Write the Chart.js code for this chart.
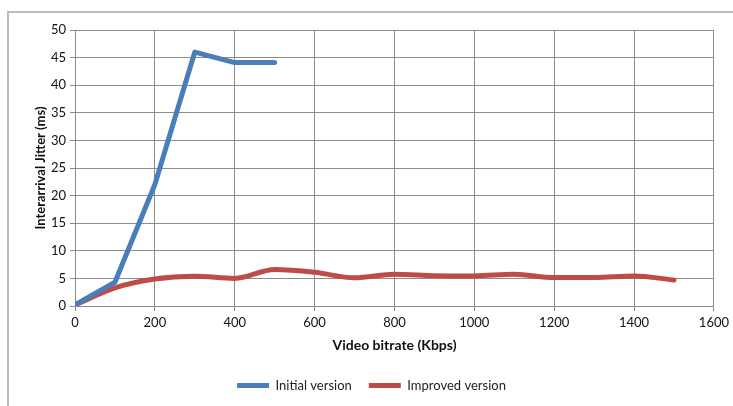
<!DOCTYPE html>
<html>
<head>
  <title>Interarrival Jitter</title>
  <script src="https://cdn.jsdelivr.net/npm/chart.js"></script>
  <style>
    html, body { margin: 0; padding: 0; background: #fff; }
    #wrap { width: 733px; height: 406px; }
  </style>
</head>
<body>
  <div id="wrap"><canvas id="jitter-chart"></canvas></div>
  <script>
    // data
    const bitrates = [0, 100, 200, 300, 400, 500, 600, 700, 800, 900, 1000, 1100, 1200, 1300, 1400, 1500];
    const initialJitter = [0.2, 4.3, 22, 46, 44.1, 44.1];
    const improvedJitter = [0.2, 3.3, 4.9, 5.4, 5.0, 6.6, 6.1, 5.1, 5.75, 5.5, 5.45, 5.75, 5.15, 5.15, 5.45, 4.7];

    const seriesNames = ['Initial version', 'Improved version'];
    const xTitle = 'Video bitrate (Kbps)';
    const yTitle = 'Interarrival Jitter (ms)';

    const font = 'Lato, "Open Sans", sans-serif';
    const gridColor = '#8c8c8c';

    function toPoints(values) {
      return values.map((v, i) => ({ x: bitrates[i], y: v }));
    }

    // grey frame round the whole chart area
    const framePlugin = {
      id: 'frame',
      beforeDraw(chart) {
        const c = chart.ctx;
        c.save();
        c.strokeStyle = '#bdbdbd';
        c.lineWidth = 2;
        c.strokeRect(8, 12, chart.width + 20, chart.height + 20);
        c.restore();
      }
    };

    const ctx = document.getElementById('jitter-chart').getContext('2d');
    new Chart(ctx, {
      type: 'line',
      data: {
        datasets: [{
          label: seriesNames[0],
          data: toPoints(initialJitter),
          borderColor: '#4a7ebb',
          backgroundColor: '#4a7ebb',
          borderWidth: 5,
          pointRadius: 0,
          borderCapStyle: 'round',
          borderJoinStyle: 'round'
        }, {
          label: seriesNames[1],
          data: toPoints(improvedJitter),
          borderColor: '#be4b48',
          backgroundColor: '#be4b48',
          borderWidth: 5,
          pointRadius: 0,
          cubicInterpolationMode: 'monotone',
          borderCapStyle: 'round',
          borderJoinStyle: 'round'
        }]
      },
      options: {
        responsive: true,
        maintainAspectRatio: false,
        animation: false,
        layout: { padding: { left: 29, top: 30, right: 19, bottom: 4 } },
        plugins: {
          tooltip: { enabled: false },
          legend: {
            position: 'bottom',
            labels: {
              color: '#222',
              font: { family: font, size: 13 },
              boxWidth: 32,
              boxHeight: 5,
              padding: 17,
              generateLabels(chart) {
                return chart.data.datasets.map((ds, i) => ({
                  text: ds.label,
                  fillStyle: ds.borderColor,
                  strokeStyle: ds.borderColor,
                  lineWidth: 0,
                  fontColor: '#222',
                  datasetIndex: i
                }));
              }
            }
          }
        },
        scales: {
          x: {
            type: 'linear',
            min: 0,
            max: 1600,
            ticks: { stepSize: 200, color: '#111', font: { family: font, size: 13 }, padding: 4, callback: v => String(v) },
            grid: { color: gridColor, tickLength: 5 },
            border: { color: gridColor },
            title: { display: true, text: xTitle, color: '#111', font: { family: font, size: 14, weight: 'bold' }, padding: { top: 4, bottom: 8 } },
            afterFit(scale) { scale.height = 56; }
          },
          y: {
            min: 0,
            max: 50,
            ticks: { stepSize: 5, color: '#111', font: { family: font, size: 13 }, padding: 4 },
            grid: { color: gridColor, tickLength: 5 },
            border: { color: gridColor },
            title: { display: true, text: yTitle, color: '#111', font: { family: font, size: 13, weight: 'bold' } },
            afterFit(scale) { scale.width = 46; }
          }
        }
      },
      plugins: [framePlugin]
    });
  </script>
</body>
</html>
